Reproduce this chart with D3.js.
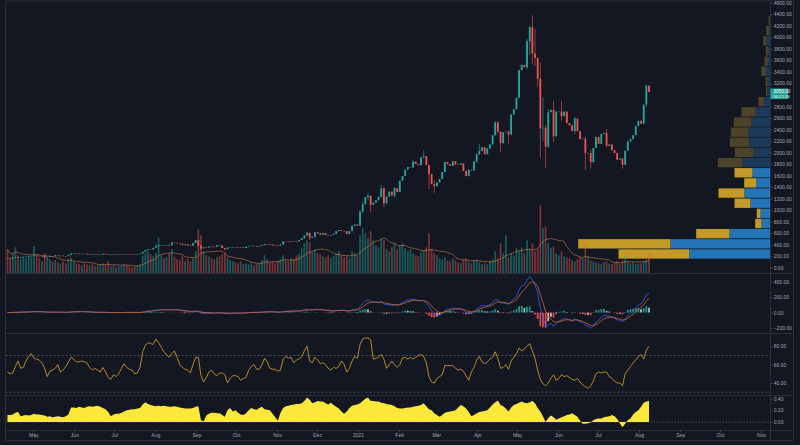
<!DOCTYPE html>
<html>
<head>
<meta charset="utf-8">
<script src="https://cdn.jsdelivr.net/npm/d3@7"></script>
<style>
  html, body { margin: 0; padding: 0; background: #131722; }
  svg { display: block; }
</style>
</head>
<body>
<svg id="chart" width="800" height="445"></svg>
<script>
// ETH/USD, 2-day candles starting 11 Apr 2020
const startDate = new Date(2020, 3, 11);
const firstOpen = 160;

const closes = [
  158,157,172,187,172,182,187,197,197,206,
  213,207,204,212,188,190,203,200,215,209,
  209,202,201,220,244,248,243,240,244,243,
  230,238,230,235,228,228,244,232,221,228,
  231,226,228,239,241,240,239,238,233,236,
  245,275,305,322,318,345,370,390,395,392,
  395,388,438,433,424,416,392,407,386,383,
  428,477,385,335,353,351,367,365,364,389,
  384,341,321,350,357,359,353,346,352,341,
  365,375,381,378,368,379,392,410,406,403,
  387,386,384,402,454,451,450,463,461,458,
  480,510,558,605,518,539,615,598,569,601,
  568,560,567,587,634,654,638,634,584,636,
  729,751,729,975,1100,1225,1250,1090,1130,1170,
  1230,1380,1115,1235,1320,1250,1380,1315,1510,1590,
  1700,1745,1745,1840,1800,1780,1915,1935,1780,1625,
  1450,1416,1480,1540,1660,1835,1795,1765,1850,1790,
  1785,1810,1680,1590,1700,1690,1845,1965,2025,2090,
  1970,2070,2140,2300,2520,2360,2160,2350,2360,2310,
  2660,2750,2950,3430,3520,3480,3930,4170,3720,3640,
  3280,2420,2430,2100,2700,2740,2280,2710,2710,2630,
  2710,2510,2470,2370,2590,2370,2230,2240,1990,1990,
  1830,2080,2270,2150,2320,2340,2115,2140,2040,1990,
  1875,1895,1785,2030,2190,2230,2300,2460,2550,2500,
  2830,3160,3050
];

// notable wicks: [candle index, high, low]
const wicks = [
  [1,165,150],[14,213,170],[56,415,350],[62,445,385],[71,488,428],[72,480,370],
  [73,390,310],[82,345,310],[113,620,555],[114,605,480],[116,620,530],
  [133,1000,720],[134,1150,950],[136,1300,1180],[137,1250,960],[141,1440,1210],
  [142,1390,1050],[146,1400,1220],[153,1870,1730],[157,2040,1900],[159,1790,1370],
  [161,1520,1300],[177,1990,1820],[178,2150,1960],[184,2550,2280],[185,2550,2330],
  [186,2370,2000],[189,2380,2150],[196,3970,3450],[197,4200,3700],[198,4380,3530],
  [199,4150,3500],[200,3650,3150],[201,3560,1900],[202,2950,2200],[203,2480,1730],
  [204,2750,2080],[206,2900,2180],[209,2890,2550],[214,2620,2320],[218,2280,1700],
  [220,2050,1720],[226,2410,2100],[232,1900,1720],[241,3180,2780]
];

const volumes = [
  24,16,20,26,18,14,17,15,18,16,27,
  18,15,12,20,16,14,12,13,11,10,12,10,14,
  16,12,10,9,8,10,9,8,9,7,8,9,10,8,12,7,8,6,7,8,9,8,7,6,7,8,9,
  18,20,22,19,17,20,36,
  18,15,16,20,24,16,14,13,17,12,14,12,15,22,
  44,38,
  22,18,17,15,14,16,17,19,21,16,13,12,
  11,10,12,9,10,9,11,8,9,10,13,18,
  14,11,12,10,12,14,18,13,12,15,
  14,18,20,25,30,33,31,22,24,20,19,17,16,18,15,
  17,20,22,18,16,17,15,22,20,18,
  38,45,40,35,42,33,28,26,35,
  33,24,22,26,30,24,28,30,25,22,24,20,18,17,21,23,26,
  40,24,20,
  18,15,14,16,13,12,15,13,11,10,14,15,12,10,13,14,11,9,10,9,12,14,22,15,
  30,20,38,16,
  20,18,25,22,26,20,33,24,30,22,24,
  68,45,47,30,25,
  27,20,18,22,17,16,15,
  13,12,14,16,15,28,17,
  13,12,11,10,9,11,12,10,9,11,12,9,13,18,12,10,11,9,10,10,12,14,20
];

const rsiValues = [
  52,50,51,58,64,56,57,64,69,72, 67,66,65,62,56,47,53,54,56,60,
  52,54,58,63,68,66,63,63,64,63, 62,57,54,56,54,52,57,52,46,44,
  49,47,50,56,61,57,55,54,50,51, 57,74,81,84,83,82,88,84,79,74,
  71,68,72,75,68,60,57,55,54,51, 60,68,68,48,41,46,52,54,50,48,
  51,51,49,40,45,48,48,47,43,45, 46,54,58,60,55,55,60,67,63,56,
  55,55,53,54,66,69,67,68,62,65, 66,69,75,80,64,62,68,65,61,62,
  60,56,54,57,56,58,64,60,52,56, 64,69,67,82,88,89,89,87,66,67,
  68,71,66,56,60,64,60,57,60,67, 68,66,68,66,68,70,71,69,62,47,
  41,40,45,47,49,59,59,59,59,56, 54,55,53,48,43,52,57,65,69,63,
  61,63,66,68,74,67,56,57,60,55, 64,68,72,78,75,77,80,83,75,67,
  54,44,39,37,40,45,49,43,45,49, 47,48,46,44,43,45,41,38,36,34,
  37,42,50,52,51,52,52,47,45,42, 40,40,37,50,54,58,62,65,69,71,
  66,76,80
];

const flowValues = [
  .12,.12,.13,.16,.17,.10,.11,.12,.11,.12, .14,.13,.13,.12,.11,.09,.10,.08,.09,.10,
  .09,.08,.10,.13,.25,.25,.24,.26,.25,.24, .26,.27,.26,.27,.28,.26,.24,.22,.17,.10,
  .13,.14,.14,.16,.18,.20,.21,.22,.22,.23, .24,.30,.34,.31,.29,.28,.27,.28,.27,.28,
  .27,.26,.26,.27,.26,.25,.24,.23,.23,.23, .24,.26,.27,.03,.01,.11,.14,.16,.16,.15,
  .15,.12,.09,.20,.24,.18,.20,.16,.13,.12, .15,.20,.24,.22,.21,.24,.26,.22,.21,.20,
  .14,.08,.02,.16,.24,.27,.28,.29,.30,.31, .31,.32,.36,.42,.38,.32,.34,.36,.35,.35,
  .32,.30,.33,.29,.26,.23,.18,.14,.18,.24, .28,.29,.30,.32,.36,.40,.42,.36,.36,.35,
  .35,.33,.32,.31,.30,.29,.27,.24,.23,.23, .24,.25,.25,.26,.27,.28,.29,.32,.27,.22,
  .20,.15,.12,.09,.12,.16,.17,.18,.19,.20, .25,.29,.27,.23,.17,.10,.12,.15,.17,.18,
  .19,.20,.25,.30,.34,.37,.29,.27,.23,.18, .25,.29,.31,.33,.35,.33,.32,.34,.36,.32,
  .24,.18,.10,.00,.07,.11,.08,.04,.06,.08, .10,.12,.13,.15,.12,.09,.02,-.03,-.03,-.02,
  -.01,.03,.05,.06,.06,.08,.09,.10,.12,.10, .05,-.02,-.09,-.03,.03,.06,.13,.17,.20,.26,
  .33,.35,.36
];

// visible range volume profile, 24 rows from bottom to top
const profileUp   = [813,1000,410,90,100,200,260,143,180,283,173,213,220,190,147,63,30,27,47,27,20,40,13,7];
const profileDown = [707,923,333,63,37,160,260,120,180,244,184,194,177,177,143,57,15,23,46,33,27,33,30,13];
const valueAreaRows = 9;

const priceTicks = [0,200,400,600,800,1000,1200,1400,1600,1800,2000,2200,2400,2600,2800,3200,3400,3600,3800,4000,4200,4400,4600];
const macdTicks = [400,200,0,-200];
const rsiTicks = [80,60,40];
const flowTicks = [0.4,0.2,0];
const timeLabels = ["May","Jun","Jul","Aug","Sep","Oct","Nov","Dec","2021","Feb","Mar","Apr","May","Jun","Jul","Aug","Sep","Oct","Nov"];
const lastLabel = ["3050.00", "06:21:36"];

// ---------------------------------------------------------------
const left = 5.5, right = 770.5, outer = 793.5;
const font = "Liberation Sans, Arial, sans-serif";
const svg = d3.select("#chart");

svg.append("rect").attr("width", 800).attr("height", 445).attr("fill", "#131722");

const x = d3.scaleTime()
  .domain([new Date(2020, 4, 1), new Date(2021, 10, 1)])
  .range([33.3, 761]);
const yPrice = d3.scaleLinear().domain([0, 4600]).range([267.7, 2.7]);
const yVol = d3.scaleLinear().domain([0, 100]).range([273.3, 173.3]);
const yMacd = d3.scaleLinear().domain([-200, 400]).range([328, 281.7]);
const yRsi = d3.scaleLinear().domain([40, 80]).range([383, 346.3]);
const yFlow = d3.scaleLinear().domain([0, 0.4]).range([422, 398.7]);

// build candles
const candles = closes.map((c, i) => {
  const o = i === 0 ? firstOpen : closes[i - 1];
  return {
    date: d3.timeHour.offset(d3.timeDay.offset(startDate, 2 * i), 12),
    open: o, close: c, high: Math.max(o, c), low: Math.min(o, c),
    volume: volumes[i], rsi: rsiValues[i], flow: flowValues[i]
  };
});
wicks.forEach(([i, h, l]) => {
  candles[i].high = Math.max(candles[i].high, h);
  candles[i].low = Math.min(candles[i].low, l);
});

// indicators
function ema(values, n) {
  const k = 2 / (n + 1);
  let prev = values[0];
  return values.map(v => (prev = v * k + prev * (1 - k)));
}
const fast = ema(closes, 6), slow = ema(closes, 13);
const macdLine = fast.map((f, i) => f - slow[i]);
const signalLine = ema(macdLine, 4.5);
candles.forEach((d, i) => {
  d.macd = macdLine[i];
  d.signal = signalLine[i];
  d.hist = macdLine[i] - signalLine[i];
  const from = Math.max(0, i - 9);
  d.volMa = d3.mean(volumes.slice(from, i + 1));
});

const up = "#26a69a", down = "#ef5350";

// clip
const defs = svg.append("defs");
function clip(id, y0, y1) {
  defs.append("clipPath").attr("id", id).append("rect")
    .attr("x", left).attr("y", y0).attr("width", right - left).attr("height", y1 - y0);
  return "url(#" + id + ")";
}

// ---------- price pane ----------
const pricePane = svg.append("g").attr("clip-path", clip("cp", 1, 273.5));

// volume profile
const lo = d3.min(candles, d => d.low), hi = d3.max(candles, d => d.high);
const rowStep = (hi - lo) / profileUp.length;
const profX = d3.scaleLinear()
  .domain([0, d3.max(profileUp, (u, i) => u + profileDown[i])])
  .range([0, 192.3]);
const rows = profileUp.map((u, i) => ({ up: u, down: profileDown[i], k: i }));
const prof = pricePane.append("g");
rows.forEach(r => {
  const yTop = yPrice(lo + rowStep * (r.k + 1)) + 0.4;
  const yBot = yPrice(lo + rowStep * r.k) - 0.4;
  const bright = r.k < valueAreaRows;
  const wUp = profX(r.up), wDown = profX(r.down);
  prof.append("rect").attr("x", right - wUp).attr("y", yTop)
    .attr("width", wUp).attr("height", yBot - yTop)
    .attr("fill", bright ? "#2375b8" : "#1b3a5a");
  prof.append("rect").attr("x", right - wUp - wDown).attr("y", yTop)
    .attr("width", wDown).attr("height", yBot - yTop)
    .attr("fill", bright ? "#c39a27" : "#4c4328");
});

// volume bars
pricePane.append("g").selectAll("rect")
  .data(candles).enter().append("rect")
  .attr("x", d => x(d.date) - 0.9)
  .attr("width", 1.8)
  .attr("y", d => yVol(d.volume))
  .attr("height", d => yVol(0) - yVol(d.volume))
  .attr("fill", d => d.close >= d.open ? "rgba(38,166,154,0.45)" : "rgba(239,83,80,0.45)");

pricePane.append("path")
  .datum(candles)
  .attr("fill", "none")
  .attr("stroke", "rgba(222,132,70,0.8)")
  .attr("stroke-width", 0.7)
  .attr("d", d3.line().x(d => x(d.date)).y(d => yVol(d.volMa)));

// candles
const cg = pricePane.append("g").selectAll("g").data(candles).enter().append("g");
cg.append("line")
  .attr("x1", d => x(d.date)).attr("x2", d => x(d.date))
  .attr("y1", d => yPrice(d.high)).attr("y2", d => yPrice(d.low))
  .attr("stroke", d => d.close >= d.open ? up : down)
  .attr("stroke-width", 0.6);
cg.append("rect")
  .attr("x", d => x(d.date) - 0.9)
  .attr("width", 1.8)
  .attr("y", d => yPrice(Math.max(d.open, d.close)))
  .attr("height", d => Math.max(0.6, Math.abs(yPrice(d.open) - yPrice(d.close))))
  .attr("fill", d => d.close >= d.open ? up : down);

// ---------- MACD pane ----------
const macdPane = svg.append("g").attr("clip-path", clip("cm", 273.5, 333.5));
macdPane.append("g").selectAll("rect")
  .data(candles).enter().append("rect")
  .attr("x", d => x(d.date) - 0.9)
  .attr("width", 1.8)
  .attr("y", d => Math.min(yMacd(d.hist), yMacd(0)))
  .attr("height", d => Math.abs(yMacd(d.hist) - yMacd(0)))
  .attr("fill", (d, i) => {
    const prev = i > 0 ? candles[i - 1].hist : 0;
    if (d.hist >= 0) return d.hist >= prev ? "#26a69a" : "#b2dfdb";
    return d.hist < prev ? "#ff5252" : "#ffcdd2";
  })
  .attr("opacity", 0.85);
macdPane.append("path").datum(candles)
  .attr("fill", "none").attr("stroke", "#2962ff").attr("stroke-width", 0.8)
  .attr("d", d3.line().x(d => x(d.date)).y(d => yMacd(d.macd)));
macdPane.append("path").datum(candles)
  .attr("fill", "none").attr("stroke", "#e0651c").attr("stroke-width", 0.8)
  .attr("d", d3.line().x(d => x(d.date)).y(d => yMacd(d.signal)));

// ---------- RSI pane ----------
const rsiPane = svg.append("g").attr("clip-path", clip("cr", 333.5, 395.5));
[70, 30].forEach(v => {
  rsiPane.append("line")
    .attr("x1", left).attr("x2", right)
    .attr("y1", yRsi(v)).attr("y2", yRsi(v))
    .attr("stroke", "#787b86").attr("stroke-width", 0.6)
    .attr("stroke-dasharray", "2,2");
});
rsiPane.append("path").datum(candles)
  .attr("fill", "none").attr("stroke", "#e0a526").attr("stroke-width", 0.8)
  .attr("d", d3.line().x(d => x(d.date)).y(d => yRsi(d.rsi)));

// ---------- flow pane ----------
const flowPane = svg.append("g").attr("clip-path", clip("cf", 395.5, 430.5));
flowPane.append("line")
  .attr("x1", left).attr("x2", right)
  .attr("y1", yFlow(0)).attr("y2", yFlow(0))
  .attr("stroke", "#787b86").attr("stroke-width", 0.6)
  .attr("stroke-dasharray", "1.5,1.5");
flowPane.append("path").datum(candles)
  .attr("fill", "#fce83a")
  .attr("d", d3.area().x(d => x(d.date)).y0(yFlow(0)).y1(d => yFlow(d.flow)));

// ---------- frame ----------
const frame = svg.append("g").attr("stroke", "#2a2e39").attr("stroke-width", 1);
[1, 273.5, 333.5, 395.5, 430.5, 440.5].forEach(y => {
  frame.append("line").attr("x1", left).attr("x2", outer).attr("y1", y).attr("y2", y);
});
[left, right, outer].forEach(xx => {
  frame.append("line").attr("x1", xx).attr("x2", xx).attr("y1", 1).attr("y2", 440.5);
});

// ---------- axes ----------
function styleAxis(g) {
  g.select(".domain").remove();
  g.selectAll("line").attr("stroke", "#5d606b").attr("stroke-width", 0.6);
  g.selectAll("text").attr("fill", "#a3a6af").attr("font-size", 5).attr("font-family", font);
}
const fmt2 = d3.format(".2f");
[[yPrice, priceTicks], [yMacd, macdTicks], [yRsi, rsiTicks], [yFlow, flowTicks]].forEach(([s, t]) => {
  svg.append("g")
    .attr("transform", "translate(" + right + ",0)")
    .call(d3.axisRight(s).tickValues(t).tickFormat(fmt2).tickSize(2).tickPadding(1.2))
    .call(styleAxis);
});

const monthDates = timeLabels.map((l, i) => new Date(2020, 4 + i, 1));
svg.append("g")
  .attr("transform", "translate(0,430.5)")
  .call(d3.axisBottom(x).tickValues(monthDates).tickFormat((d, i) => timeLabels[i]).tickSize(2).tickPadding(1.2))
  .call(styleAxis);

// last price label
const last = candles[candles.length - 1];
const ly = yPrice(last.close);
svg.append("rect").attr("x", right).attr("y", ly - 3.5).attr("width", 17.5).attr("height", 10.6)
  .attr("fill", "#26a69a");
svg.append("text").attr("x", right + 3).attr("y", ly + 1.3).text(lastLabel[0])
  .attr("fill", "#ffffff").attr("font-size", 4.6).attr("font-family", font);
svg.append("text").attr("x", right + 3).attr("y", ly + 6).text(lastLabel[1])
  .attr("fill", "#e6f5f3").attr("font-size", 4.2).attr("font-family", font);
</script>
</body>
</html>
